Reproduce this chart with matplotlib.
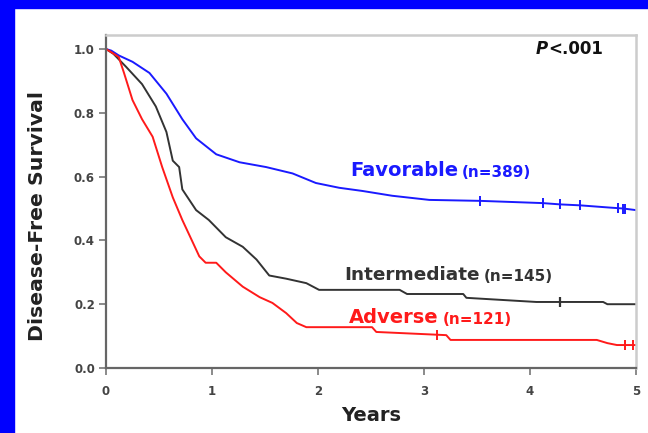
import numpy as np
import matplotlib
matplotlib.use("Agg")
from matplotlib import pyplot as plt
from matplotlib.patches import Rectangle

# Kaplan-Meier curves (years, survival)
fav_t = [0, 0.05, 0.12, 0.25, 0.41, 0.57, 0.72, 0.85, 1.04, 1.26, 1.51, 1.76, 1.98, 2.2, 2.42, 2.7, 3.05, 3.53, 4.12, 4.28, 4.47, 4.75, 4.88, 5.0]
fav_s = [1.0, 0.995, 0.98, 0.96, 0.925, 0.86, 0.78, 0.72, 0.67, 0.645, 0.63, 0.61, 0.58, 0.565, 0.555, 0.54, 0.527, 0.524, 0.517, 0.513, 0.51, 0.503, 0.5, 0.495]
fav_cens_t = [3.53, 4.12, 4.28, 4.47, 4.83, 4.88, 4.9]
fav_cens_s = [0.524, 0.517, 0.513, 0.51, 0.502, 0.5, 0.5]

int_t = [0, 0.07, 0.19, 0.34, 0.47, 0.57, 0.63, 0.69, 0.72, 0.85, 0.97, 1.13, 1.29, 1.42, 1.54, 1.70, 1.89, 2.01, 2.77, 2.84, 3.37, 3.40, 4.06, 4.69, 4.73, 5.0]
int_s = [1.0, 0.985, 0.944, 0.89, 0.82, 0.74, 0.65, 0.63, 0.56, 0.495, 0.464, 0.41, 0.38, 0.34, 0.29, 0.28, 0.266, 0.245, 0.245, 0.232, 0.232, 0.22, 0.207, 0.207, 0.20, 0.20]
int_cens_t = [4.28]
int_cens_s = [0.207]

adv_t = [0, 0.05, 0.12, 0.17, 0.25, 0.34, 0.44, 0.53, 0.63, 0.72, 0.81, 0.88, 0.94, 1.04, 1.13, 1.29, 1.45, 1.57, 1.70, 1.80, 1.89, 2.27, 2.51, 2.55, 3.21, 3.25, 4.63, 4.73, 4.82, 5.0]
adv_s = [1.0, 0.99, 0.975, 0.925, 0.84, 0.78, 0.725, 0.63, 0.535, 0.464, 0.40, 0.35, 0.33, 0.33, 0.30, 0.255, 0.222, 0.204, 0.172, 0.141, 0.128, 0.128, 0.128, 0.113, 0.103, 0.088, 0.088, 0.078, 0.072, 0.072]
adv_cens_t = [3.12, 4.9, 4.97]
adv_cens_s = [0.103, 0.072, 0.072]

blue = "#1a1aff"
grey = "#333333"
red = "#ff1a1a"

plt.rcParams["font.family"] = ["DejaVu Sans"]
fig = plt.figure(figsize=(6.48, 4.33), dpi=100)
fig.patch.set_facecolor("white")
fig.patches.append(Rectangle((0, 1 - 8/433), 1, 8/433, transform=fig.transFigure, color="#0000ff", zorder=0))
fig.patches.append(Rectangle((0, 0), 14/648, 1, transform=fig.transFigure, color="#0000ff", zorder=0))

ax = fig.add_axes([106/648, 1 - 368/433, 530/648, 333/433])
ax.plot(fav_t, fav_s, color=blue, lw=1.4)
ax.plot(int_t, int_s, color=grey, lw=1.4)
ax.plot(adv_t, adv_s, color=red, lw=1.4)
ax.plot(fav_cens_t, fav_cens_s, "|", color=blue, ms=7, mew=1.4)
ax.plot(int_cens_t, int_cens_s, "|", color=grey, ms=7, mew=1.6)
ax.plot(adv_cens_t, adv_cens_s, "|", color=red, ms=7, mew=1.4)

ax.set_xlim(0, 5)
ax.set_ylim(0, 1.044)
ax.set_xticks([0, 1, 2, 3, 4, 5])
ax.set_yticks([0, 0.2, 0.4, 0.6, 0.8, 1.0])
ax.set_yticklabels(["0.0", "0.2", "0.4", "0.6", "0.8", "1.0"])
ax.tick_params(direction="out", length=5, width=1.2, color="#777777",
               labelsize=8.5, labelcolor="#444444", pad=3)
for lab in ax.get_xticklabels() + ax.get_yticklabels():
    lab.set_fontweight("bold")
ax.tick_params(axis="x", pad=7)
for side in ["left", "bottom"]:
    ax.spines[side].set_color("#666666")
    ax.spines[side].set_linewidth(1.6)
for side in ["top", "right"]:
    ax.spines[side].set_color("#cccccc")
    ax.spines[side].set_linewidth(1.8)

ax.set_xlabel("Years", fontsize=14, fontweight="bold", color="#222222", labelpad=6)
ax.set_ylabel("Disease-Free Survival", fontsize=14.7, fontweight="bold", color="#222222")
ax.yaxis.set_label_coords(-0.112, 0.456)

ax.text(2.30, 0.62, "Favorable", color=blue, fontsize=14, fontweight="bold", va="center")
ax.text(3.36, 0.614, "(n=389)", color=blue, fontsize=11, fontweight="bold", va="center")
ax.text(2.25, 0.293, "Intermediate", color=grey, fontsize=13.3, fontweight="bold", va="center")
ax.text(3.56, 0.287, "(n=145)", color=grey, fontsize=11, fontweight="bold", va="center")
ax.text(2.29, 0.158, "Adverse", color=red, fontsize=14, fontweight="bold", va="center")
ax.text(3.18, 0.152, "(n=121)", color=red, fontsize=11, fontweight="bold", va="center")
ax.text(4.17, 1.0, "P", color="#111111", fontsize=12, fontweight="bold", fontstyle="italic", va="center", ha="right")
ax.text(4.17, 1.0, "<.001", color="#111111", fontsize=12, fontweight="bold", va="center", ha="left")

fig.savefig("out.png", dpi=100)
